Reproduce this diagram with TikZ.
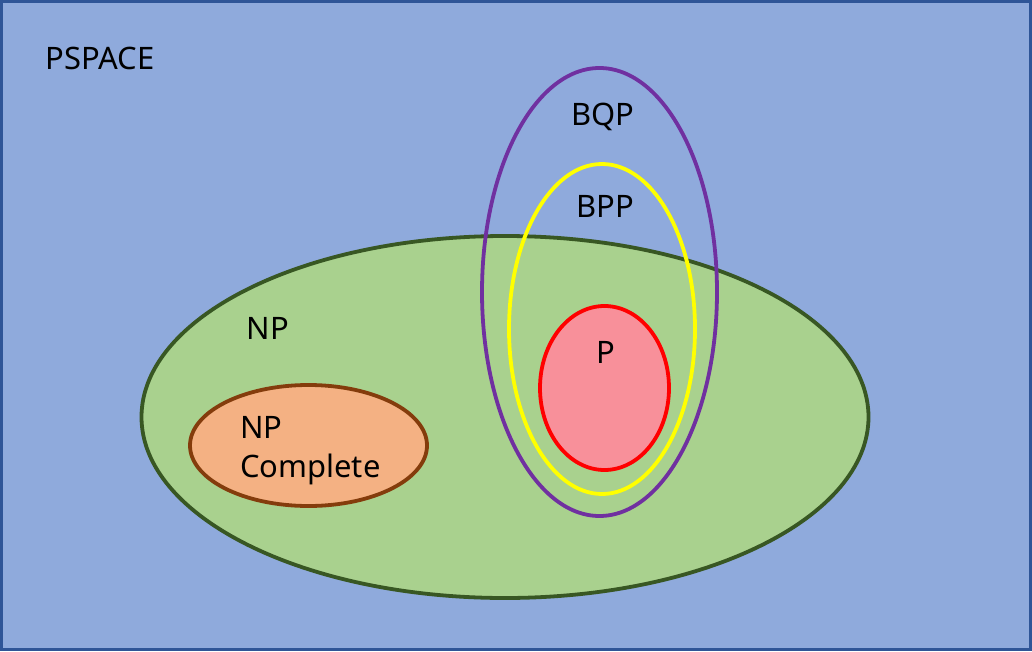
\documentclass[tikz,border=0pt]{standalone}
\usepackage{fontspec}
\setmainfont{Noto Sans}
\usepackage{tikz}
\definecolor{pspaceblue}{HTML}{8FAADC}
\definecolor{framedark}{HTML}{2F5597}
\definecolor{npgreen}{HTML}{A9D18E}
\definecolor{npdark}{HTML}{385723}
\definecolor{npcpeach}{HTML}{F4B183}
\definecolor{npcbrown}{HTML}{843C0C}
\definecolor{bqppurple}{HTML}{7030A0}
\definecolor{bppyellow}{HTML}{FFFF00}
\definecolor{ppink}{HTML}{F8909A}
\tikzset{
  clase/.style={
    line width=2.7pt
  },
  etiqueta/.style={
    font=\fontsize{22}{27.7}\selectfont,
    inner sep=0pt,
    text=black
  }
}
\begin{document}
\begin{tikzpicture}[x=0.025cm,y=-0.025cm]
\useasboundingbox (0,0) rectangle (1032,651);
% fondo
\fill[pspaceblue,draw=framedark,line width=2.4pt] (1.5,1.5) rectangle (1030.5,649.5);
\node[etiqueta] (pspace) at (100,58) {PSPACE};
% NP y NP completo
\draw[clase,fill=npgreen,draw=npdark] (505,417) ellipse [x radius=363.5,y radius=181];
\node[etiqueta] (np) at (268,328) {NP};
\draw[clase,fill=npcpeach,draw=npcbrown] (308.5,445.5) ellipse [x radius=118.5,y radius=60.5];
\node[etiqueta,align=left,anchor=west] (npc) at (240,451) {NP\\Complete};
% P, BPP, BQP
\draw[clase,fill=ppink,draw=red] (604.5,388) ellipse [x radius=64.5,y radius=82];
\node[etiqueta] (p) at (606,352) {P};
\draw[clase,draw=bppyellow] (602,329) ellipse [x radius=93,y radius=165];
\node[etiqueta] (bpp) at (605,206) {BPP};
\draw[clase,draw=bqppurple] (599.5,292) ellipse [x radius=117.5,y radius=224];
\node[etiqueta] (bqp) at (603,117) {BQP};
\end{tikzpicture}
\end{document}
